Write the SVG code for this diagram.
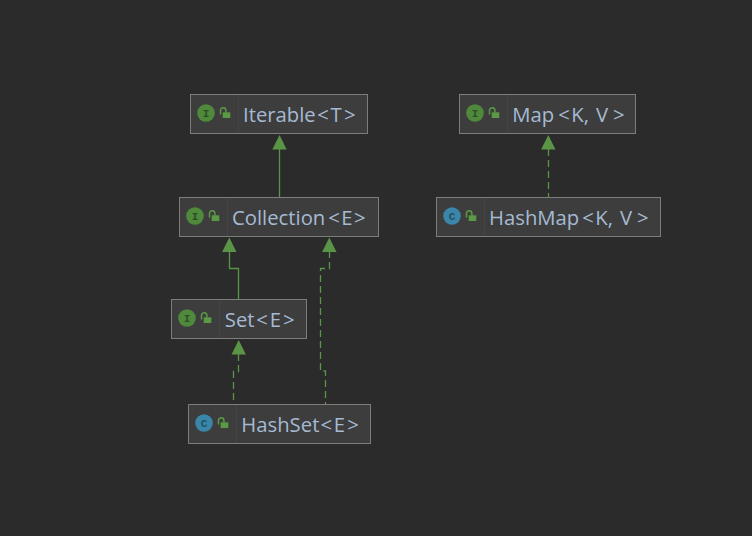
<svg xmlns="http://www.w3.org/2000/svg" width="752" height="536" viewBox="0 0 752 536">
<style>
.box{fill:#3d3d3d;stroke:#7d7d7d;stroke-width:1}
.div{stroke:#444444;stroke-width:1}
.lbl{font-family:"Open Sans","Liberation Sans",sans-serif;font-size:20.300px;fill:#a6bad3}
.ltr{font-family:"Liberation Mono",monospace;font-size:11px;font-weight:bold;text-anchor:middle}
.ci{fill:#4f8a3c}.cc{fill:#3a86a8}
.it{fill:#2d4f26}.ct{fill:#23505f}
.lock{fill:#5a9a45}.sh{fill:none;stroke:#5a9a45;stroke-width:1.5}
.edge{fill:none;stroke:#5a9446;stroke-width:1.300}
.dash{stroke-dasharray:7 4}
</style>
<defs>
<g id="padlock"><rect class="lock" x="-0.300" y="0.300" width="7.600" height="5.700"/><path class="sh" d="M-2.500 2.500V-1.500a2.700 2.700 0 0 1 5.400 0V0.500"/></g>
<path id="head" fill="#5a9446" d="M0 0L7.200 14.500H-7.200Z"/>
</defs>
<rect width="752" height="536" fill="#2b2b2b"/>
<g id="connectors">
<path class="edge" d="M279.500 149V197"/>
<use href="#head" x="279.500" y="135"/>
<path class="edge" d="M229.500 251V268.500H238.500V299"/>
<use href="#head" x="229.300" y="237.500"/>
<path class="edge dash" d="M329.500 251V268.500H320.500V371H325.500V404"/>
<use href="#head" x="329.300" y="237.500"/>
<path class="edge dash" d="M238.500 354V371.500H233.500V404"/>
<use href="#head" x="238.700" y="340"/>
<path class="edge dash" d="M548.500 149V197"/>
<use href="#head" x="548.300" y="135"/>
</g>
<g id="iterable">
<rect class="box" x="190.500" y="94.500" width="177" height="39"/>
<path class="div" d="M238.500 95V133"/>
<circle class="ci" cx="206" cy="113" r="8.800"/><text class="ltr it" x="206" y="117">I</text>
<use href="#padlock" x="223" y="112"/>
<text class="lbl" y="122"><tspan x="243">Iterable</tspan><tspan x="317.200">&lt;</tspan><tspan x="330.500">T</tspan><tspan x="343.900">&gt;</tspan></text>
</g>
<g id="collection">
<rect class="box" x="179.500" y="197.500" width="199" height="39"/>
<path class="div" d="M227.500 198V236"/>
<circle class="ci" cx="195" cy="216" r="8.800"/><text class="ltr it" x="195" y="220">I</text>
<use href="#padlock" x="212" y="215"/>
<text class="lbl" y="225"><tspan x="232">Collection</tspan><tspan x="328.200">&lt;</tspan><tspan x="341.300">E</tspan><tspan x="353.900">&gt;</tspan></text>
</g>
<g id="set">
<rect class="box" x="171.500" y="299.500" width="135" height="39"/>
<path class="div" d="M219.500 300V338"/>
<circle class="ci" cx="187" cy="318" r="8.800"/><text class="ltr it" x="187" y="322">I</text>
<use href="#padlock" x="204" y="317"/>
<text class="lbl" y="327"><tspan x="224.800">Set</tspan><tspan x="256.200">&lt;</tspan><tspan x="269.700">E</tspan><tspan x="282.900">&gt;</tspan></text>
</g>
<g id="hashset">
<rect class="box" x="188.500" y="404.500" width="182" height="39"/>
<path class="div" d="M236.500 405V443"/>
<circle class="cc" cx="204" cy="423" r="8.800"/><text class="ltr ct" x="204" y="427">C</text>
<use href="#padlock" x="221" y="422"/>
<text class="lbl" y="432"><tspan x="241.300">HashSet</tspan><tspan x="320.600">&lt;</tspan><tspan x="333.700">E</tspan><tspan x="347.200">&gt;</tspan></text>
</g>
<g id="map">
<rect class="box" x="459.500" y="94.500" width="176" height="39"/>
<path class="div" d="M507.500 95V133"/>
<circle class="ci" cx="475" cy="113" r="8.800"/><text class="ltr it" x="475" y="117">I</text>
<use href="#padlock" x="492" y="112"/>
<text class="lbl" y="122"><tspan x="512.300">Map</tspan><tspan x="558.200">&lt;</tspan><tspan x="571.300">K, </tspan><tspan x="596">V</tspan><tspan x="612.900">&gt;</tspan></text>
</g>
<g id="hashmap">
<rect class="box" x="436.500" y="197.500" width="224" height="39"/>
<path class="div" d="M484.500 198V236"/>
<circle class="cc" cx="452" cy="216" r="8.800"/><text class="ltr ct" x="452" y="220">C</text>
<use href="#padlock" x="469" y="215"/>
<text class="lbl" y="225"><tspan x="489">HashMap</tspan><tspan x="582.200">&lt;</tspan><tspan x="595.300">K, </tspan><tspan x="620">V</tspan><tspan x="636.900">&gt;</tspan></text>
</g>
</svg>
